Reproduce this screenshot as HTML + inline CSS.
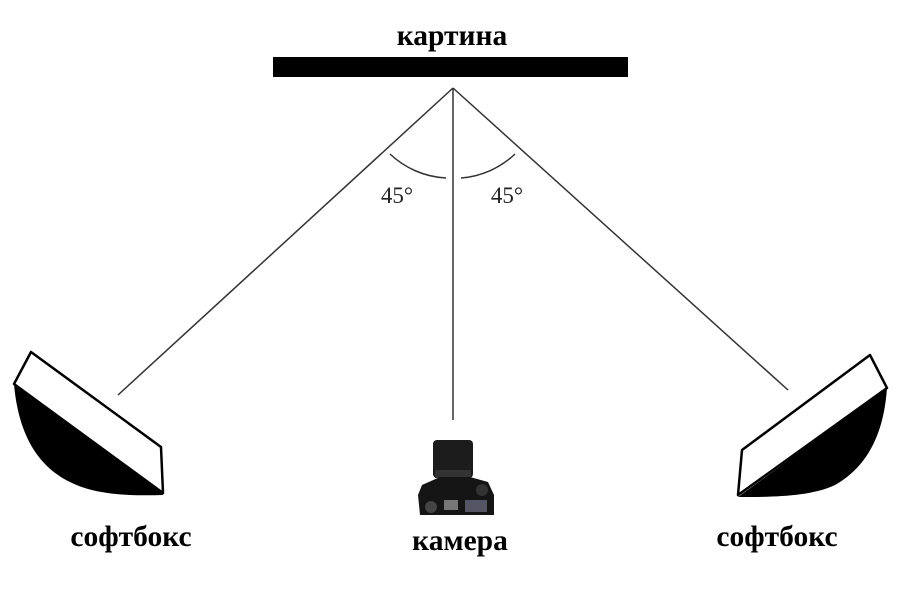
<!DOCTYPE html>
<html><head><meta charset="utf-8"><style>
html,body{margin:0;padding:0;background:#fff;}
svg{display:block;}
</style></head><body>
<svg width="900" height="600" viewBox="0 0 900 600" xmlns="http://www.w3.org/2000/svg">
<rect width="900" height="600" fill="#fff"/>
<text x="452" y="45" text-anchor="middle" font-family="Liberation Serif, serif" font-weight="bold" font-size="29.5">картина</text>
<rect x="273" y="57" width="355" height="20" fill="#000"/>
<g stroke="#333" stroke-width="1.5" fill="none">
<line x1="453" y1="88" x2="118" y2="395"/>
<line x1="453" y1="88" x2="453" y2="420"/>
<line x1="453" y1="88" x2="788" y2="390"/>
<path d="M390 154 A88 88 0 0 0 446 178"/>
<path d="M461 178 A88 88 0 0 0 515 154"/>
</g>
<g font-family="Liberation Serif, serif" font-size="23" fill="#222">
<text x="397" y="203" text-anchor="middle">45°</text>
<text x="507" y="203" text-anchor="middle">45°</text>
</g>
<path d="M14 384 C18 430 35 465 70 482 C95 495 130 496 163 495 L163 493 Z" fill="#000"/>
<path d="M31 352 L14 384 L163 493 L161 447 Z" fill="#fff" stroke="#000" stroke-width="2.5" stroke-linejoin="round"/>
<path d="M887 388 C884 430 870 465 835 485 C810 497 770 497 738 497 Z" fill="#000"/>
<path d="M870 355 L887 388 L738 495 L742 450 Z" fill="#fff" stroke="#000" stroke-width="2.5" stroke-linejoin="round"/>
<g>
<rect x="433" y="440" width="40" height="38" rx="4" fill="#1c1c1c"/>
<rect x="435" y="470" width="36" height="8" fill="#333"/>
<path d="M422 485 L440 477 L470 477 L488 482 L494 495 L494 515 L420 515 L418 495 Z" fill="#151515"/>
<rect x="465" y="500" width="22" height="12" fill="#556"/>
<circle cx="431" cy="507" r="6" fill="#444"/>
<rect x="444" y="500" width="14" height="10" fill="#777"/>
<circle cx="482" cy="490" r="6" fill="#333"/>
</g>
<g font-family="Liberation Serif, serif" font-weight="bold" font-size="29.5" fill="#000">
<text x="131" y="546" text-anchor="middle">софтбокс</text>
<text x="460" y="550" text-anchor="middle">камера</text>
<text x="777" y="546" text-anchor="middle">софтбокс</text>
</g>
</svg>
</body></html>
